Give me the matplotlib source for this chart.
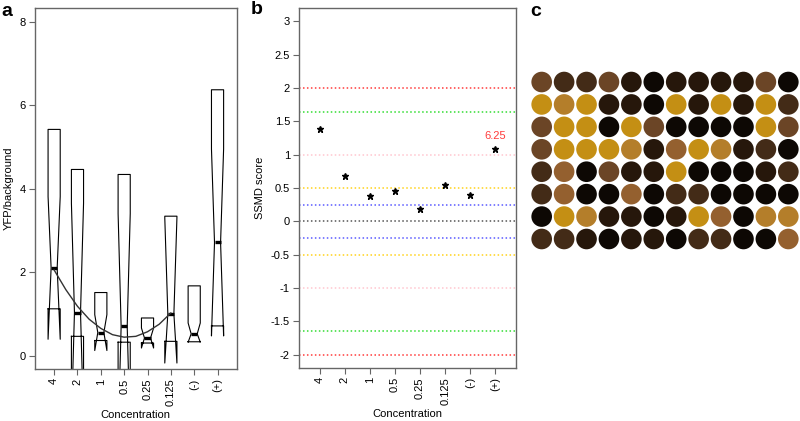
import numpy as np
import matplotlib
matplotlib.use('Agg')
import matplotlib.pyplot as plt
from matplotlib.patches import Circle

# panel a: notched boxplots
conc_labels = ['4', '2', '1', '0.5', '0.25', '0.125', '(-)', '(+)']
box_q1 = [1.12, 0.46, 0.36, 0.32, 0.30, 0.34, 0.33, 0.71]
box_med = [2.10, 1.03, 0.55, 0.70, 0.42, 1.00, 0.52, 2.71]
box_q3 = [5.42, 4.46, 1.51, 4.34, 0.90, 3.34, 1.67, 6.37]
notch_lo = [0.39, -1.59, 0.12, -2.00, 0.18, -0.18, 0.32, 0.47]
notch_hi = [3.81, 3.65, 0.98, 3.40, 0.66, 3.30, 0.78, 4.95]
curve_x = [1, 1.5, 2, 2.5, 3, 3.5, 4, 4.5, 5, 5.5, 6]
curve_y = [2.05, 1.58, 1.18, 0.87, 0.65, 0.50, 0.44, 0.46, 0.57, 0.75, 1.02]

# panel b: SSMD scores
ssmd = [1.39, 0.68, 0.38, 0.46, 0.18, 0.55, 0.40, 1.08]
ssmd_note = '6.25'
thr_levels = [2, 1.645, 1, 0.5, 0.25, 0, -0.25, -0.5, -1, -1.645, -2]
thr_colors = ['#ff3b3b', '#33dd33', '#ffc6cf', '#ffd21a', '#5a5aff', '#555555',
              '#5a5aff', '#ffd21a', '#ffc6cf', '#33dd33', '#ff3b3b']
ssmd_ticks = [3, 2.5, 2, 1.5, 1, 0.5, 0, -0.5, -1, -1.5, -2]
ssmd_ticklabels = ['3', '2.5', '2', '1.5', '1', '0.5', '0', '-0.5', '-1', '-1.5', '-2']

# panel c: plate colours, 8 rows x 12 wells
plate_palette = {'G': '#c48f14', 'O': '#b47e2a', 'L': '#94602f', 'B': '#6b4526',
                 'D': '#432b17', 'K': '#26170b', 'X': '#0d0804'}
plate_rows = [
    'BDDBKXKKKKBX',
    'GOGKKXGKGKGD',
    'BGGXGBXXXXGB',
    'BGGGOKLGOKDX',
    'DLXBKKGXXXKD',
    'DLXXLXDDXXXX',
    'XGOKKXKGLXOO',
    'DDKXKKXDDXXL',
]


def style_axis(ax):
    for s in ax.spines.values():
        s.set_color('#666666')
        s.set_linewidth(1.0)
    ax.tick_params(direction='out', length=4.5, width=0.8, color='#666666',
                   labelsize=8, pad=2)


def draw_notched_box(ax, x, q1, med, q3, nlo, nhi, hw=0.26):
    xl, xr = x - hw, x + hw
    xn = hw * 0.5
    px = [xl, xl, x - xn, xl, xl, xr, xr, x + xn, xr, xr, xl]
    py = [q1, nlo, med, nhi, q3, q3, nhi, med, nlo, q1, q1]
    ax.plot(px, py, color='black', lw=0.8)
    ax.plot([x - xn, x + xn], [med, med], color='black', lw=2.4, solid_capstyle='butt')


def main():
    plt.rcParams['font.family'] = ['Liberation Sans', 'DejaVu Sans']
    fig = plt.figure(figsize=(8.0, 4.21), dpi=100)
    xpos = np.arange(1, len(conc_labels) + 1)

    # ---- panel a
    ax1 = fig.add_axes([0.04375, 0.1228, 0.2521, 0.8582])
    for i in range(len(conc_labels)):
        draw_notched_box(ax1, xpos[i], box_q1[i], box_med[i], box_q3[i], notch_lo[i], notch_hi[i])
    ax1.plot(curve_x, curve_y, color='#333333', lw=1.0)
    ax1.set_xlim(0.18, 8.82)
    ax1.set_ylim(-0.33, 8.33)
    ax1.set_yticks([0, 2, 4, 6, 8])
    ax1.set_xticks(xpos)
    ax1.set_xticklabels(conc_labels, rotation=90)
    ax1.set_xlabel('Concentration', fontsize=8, labelpad=3)
    ax1.set_ylabel('YFP/background', fontsize=8, labelpad=4)
    style_axis(ax1)
    fig.text(0.002, 0.992, 'a', fontsize=14, fontweight='bold', va='top', ha='left')

    # ---- panel b
    ax2 = fig.add_axes([0.37375, 0.1259, 0.27125, 0.8551])
    for lev, col in zip(thr_levels, thr_colors):
        ax2.axhline(lev, color=col, lw=1.1, linestyle=(0, (1, 1.6)))
    ax2.plot(xpos, ssmd, linestyle='none', marker='*', color='black', markersize=4.5)
    ax2.text(xpos[-1], ssmd[-1] + 0.2, ssmd_note, color='#ff3b3b', fontsize=8,
             ha='center', va='center')
    ax2.set_xlim(0.18, 8.82)
    ax2.set_ylim(-2.2, 3.2)
    ax2.set_yticks(ssmd_ticks)
    ax2.set_yticklabels(ssmd_ticklabels)
    ax2.set_xticks(xpos)
    ax2.set_xticklabels(conc_labels, rotation=90)
    ax2.set_xlabel('Concentration', fontsize=8, labelpad=3)
    ax2.set_ylabel('SSMD score', fontsize=8, labelpad=4)
    style_axis(ax2)
    fig.text(0.313, 0.997, 'b', fontsize=14, fontweight='bold', va='top', ha='left')

    # ---- panel c
    ax3 = fig.add_axes([0.6631, 0.4057, 0.3363, 0.4261])
    for r, row in enumerate(plate_rows):
        for c, code in enumerate(row):
            ax3.add_patch(Circle((c + 1, r + 1), 0.46, facecolor=plate_palette[code],
                                 edgecolor='none'))
    ax3.set_xlim(0.5, 12.5)
    ax3.set_ylim(8.5, 0.5)
    ax3.axis('off')
    fig.text(0.663, 0.992, 'c', fontsize=14, fontweight='bold', va='top', ha='left')

    fig.savefig('out.png', dpi=100)


if __name__ == '__main__':
    main()
